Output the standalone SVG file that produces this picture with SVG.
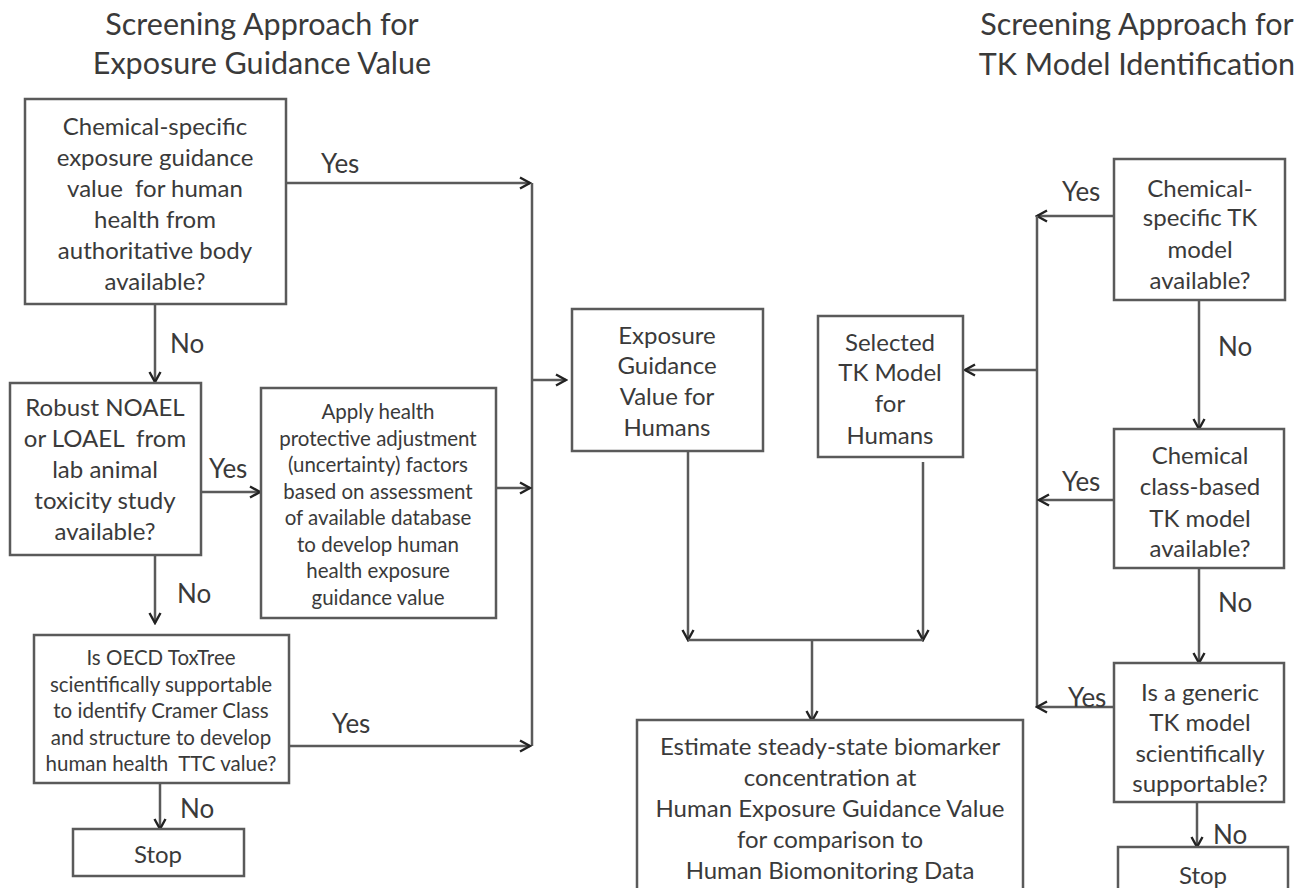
<svg xmlns="http://www.w3.org/2000/svg" width="1303" height="888" viewBox="0 0 1303 888">
<style>
text{font-family:Lato,"Open Sans","Liberation Sans",sans-serif;fill:#3a3a3a;text-anchor:middle}
.t{font-size:30.5px}
.b{font-size:24px}
.s{font-size:20.5px}
.l{font-size:26px;text-anchor:start}
.box{fill:#fff;stroke:#5a5a5a;stroke-width:2.5}
.c line,.c path{stroke:#5a5a5a;stroke-width:2.5;fill:none}
.pre{white-space:pre}
</style>
<defs>
<marker id="ah" viewBox="0 0 14 14" refX="12" refY="7" markerWidth="14" markerHeight="14" markerUnits="userSpaceOnUse" orient="auto">
<path d="M2,1.5 L12,7 L2,12.5" fill="none" stroke="#222" stroke-width="2.4"/>
</marker>
</defs>
<rect width="1303" height="888" fill="#fff"/>
<g id="titles">
<text class="t" x="262" y="35">Screening Approach for</text>
<text class="t" x="262" y="74">Exposure Guidance Value</text>
<text class="t" x="1137" y="35">Screening Approach for</text>
<text class="t" x="1137" y="75">TK Model Identification</text>
</g>
<g class="c" id="connectors">
<line x1="286" y1="183" x2="530" y2="183" marker-end="url(#ah)"/>
<line x1="532" y1="183" x2="532" y2="746"/>
<line x1="532" y1="380" x2="566" y2="380" marker-end="url(#ah)"/>
<line x1="155" y1="304" x2="155" y2="382" marker-end="url(#ah)"/>
<line x1="198" y1="492" x2="260" y2="492" marker-end="url(#ah)"/>
<line x1="496" y1="488" x2="530" y2="488" marker-end="url(#ah)"/>
<line x1="155" y1="555" x2="155" y2="623" marker-end="url(#ah)"/>
<line x1="289" y1="746" x2="530" y2="746" marker-end="url(#ah)"/>
<line x1="160" y1="783" x2="160" y2="829" marker-end="url(#ah)"/>
<line x1="688" y1="451" x2="688" y2="640" marker-end="url(#ah)"/>
<line x1="923" y1="462" x2="923" y2="640" marker-end="url(#ah)"/>
<line x1="688" y1="640" x2="923" y2="640"/>
<line x1="812" y1="640" x2="812" y2="721" marker-end="url(#ah)"/>
<line x1="1114" y1="216" x2="1037" y2="216" marker-end="url(#ah)"/>
<line x1="1037" y1="216" x2="1037" y2="707"/>
<line x1="1037" y1="370" x2="965" y2="370" marker-end="url(#ah)"/>
<line x1="1199" y1="300" x2="1199" y2="429" marker-end="url(#ah)"/>
<line x1="1114" y1="500" x2="1039" y2="500" marker-end="url(#ah)"/>
<line x1="1199" y1="568" x2="1199" y2="663" marker-end="url(#ah)"/>
<line x1="1114" y1="707" x2="1037" y2="707" marker-end="url(#ah)"/>
<line x1="1197" y1="802" x2="1197" y2="847" marker-end="url(#ah)"/>
</g>
<g id="labels">
<text class="l" x="321" y="173">Yes</text>
<text class="l" x="170" y="353">No</text>
<text class="l" x="209" y="478">Yes</text>
<text class="l" x="177" y="603">No</text>
<text class="l" x="332" y="733">Yes</text>
<text class="l" x="180" y="818">No</text>
<text class="l" x="1062" y="201">Yes</text>
<text class="l" x="1218" y="356">No</text>
<text class="l" x="1062" y="491">Yes</text>
<text class="l" x="1218" y="612">No</text>
<text class="l" x="1068" y="707">Yes</text>
<text class="l" x="1213" y="844">No</text>
</g>
<g id="n_guidance_avail">
<rect class="box" x="25" y="99" width="261" height="205"/>
<text class="b" x="155" y="135">Chemical-specific</text>
<text class="b" x="155" y="166">exposure guidance</text>
<text class="b pre" x="155" y="197">value  for human</text>
<text class="b" x="155" y="228">health from</text>
<text class="b" x="155" y="259">authoritative body</text>
<text class="b" x="155" y="290">available?</text>
</g>
<g id="n_noael">
<rect class="box" x="10" y="383" width="191" height="172"/>
<text class="b" x="105" y="416">Robust NOAEL</text>
<text class="b pre" x="105" y="447">or LOAEL  from</text>
<text class="b" x="105" y="478">lab animal</text>
<text class="b" x="105" y="509">toxicity study</text>
<text class="b" x="105" y="540">available?</text>
</g>
<g id="n_apply">
<rect class="box" x="261" y="388" width="235" height="230"/>
<text class="s" x="378" y="419">Apply health</text>
<text class="s" x="378" y="445.5">protective adjustment</text>
<text class="s" x="378" y="472">(uncertainty) factors</text>
<text class="s" x="378" y="498.5">based on assessment</text>
<text class="s" x="378" y="525">of available database</text>
<text class="s" x="378" y="551.5">to develop human</text>
<text class="s" x="378" y="578">health exposure</text>
<text class="s" x="378" y="604.5">guidance value</text>
</g>
<g id="n_toxtree">
<rect class="box" x="34" y="635" width="255" height="148"/>
<text class="s" x="161" y="665">Is OECD ToxTree</text>
<text class="s" x="161" y="692">scientifically supportable</text>
<text class="s" x="161" y="718">to identify Cramer Class</text>
<text class="s" x="161" y="745">and structure to develop</text>
<text class="s pre" x="161" y="771">human health  TTC value?</text>
</g>
<g id="n_stop_left">
<rect class="box" x="73" y="829" width="171" height="47"/>
<text class="b" x="158" y="863">Stop</text>
</g>
<g id="n_egv">
<rect class="box" x="572" y="309" width="191" height="142"/>
<text class="b" x="667" y="344">Exposure</text>
<text class="b" x="667" y="374">Guidance</text>
<text class="b" x="667" y="405">Value for</text>
<text class="b" x="667" y="436">Humans</text>
</g>
<g id="n_selected_tk">
<rect class="box" x="818" y="316" width="145" height="141"/>
<text class="b" x="890" y="351">Selected</text>
<text class="b" x="890" y="381">TK Model</text>
<text class="b" x="890" y="412">for</text>
<text class="b" x="890" y="444">Humans</text>
</g>
<g id="n_estimate">
<rect class="box" x="637" y="720" width="386" height="180"/>
<text class="b" x="830" y="755">Estimate steady-state biomarker</text>
<text class="b" x="830" y="786">concentration at</text>
<text class="b" x="830" y="817">Human Exposure Guidance Value</text>
<text class="b" x="830" y="848">for comparison to</text>
<text class="b" x="830" y="879">Human Biomonitoring Data</text>
</g>
<g id="n_specific_tk">
<rect class="box" x="1114" y="159" width="171" height="141"/>
<text class="b" x="1200" y="197">Chemical-</text>
<text class="b" x="1200" y="226">specific TK</text>
<text class="b" x="1200" y="258">model</text>
<text class="b" x="1200" y="289">available?</text>
</g>
<g id="n_class_tk">
<rect class="box" x="1114" y="429" width="170" height="139"/>
<text class="b" x="1200" y="464">Chemical</text>
<text class="b" x="1200" y="495">class-based</text>
<text class="b" x="1200" y="527">TK model</text>
<text class="b" x="1200" y="557">available?</text>
</g>
<g id="n_generic_tk">
<rect class="box" x="1114" y="663" width="170" height="139"/>
<text class="b" x="1200" y="701">Is a generic</text>
<text class="b" x="1200" y="731">TK model</text>
<text class="b" x="1200" y="762">scientifically</text>
<text class="b" x="1200" y="792">supportable?</text>
</g>
<g id="n_stop_right">
<rect class="box" x="1118" y="847" width="170" height="60"/>
<text class="b" x="1203" y="884">Stop</text>
</g>
</svg>
